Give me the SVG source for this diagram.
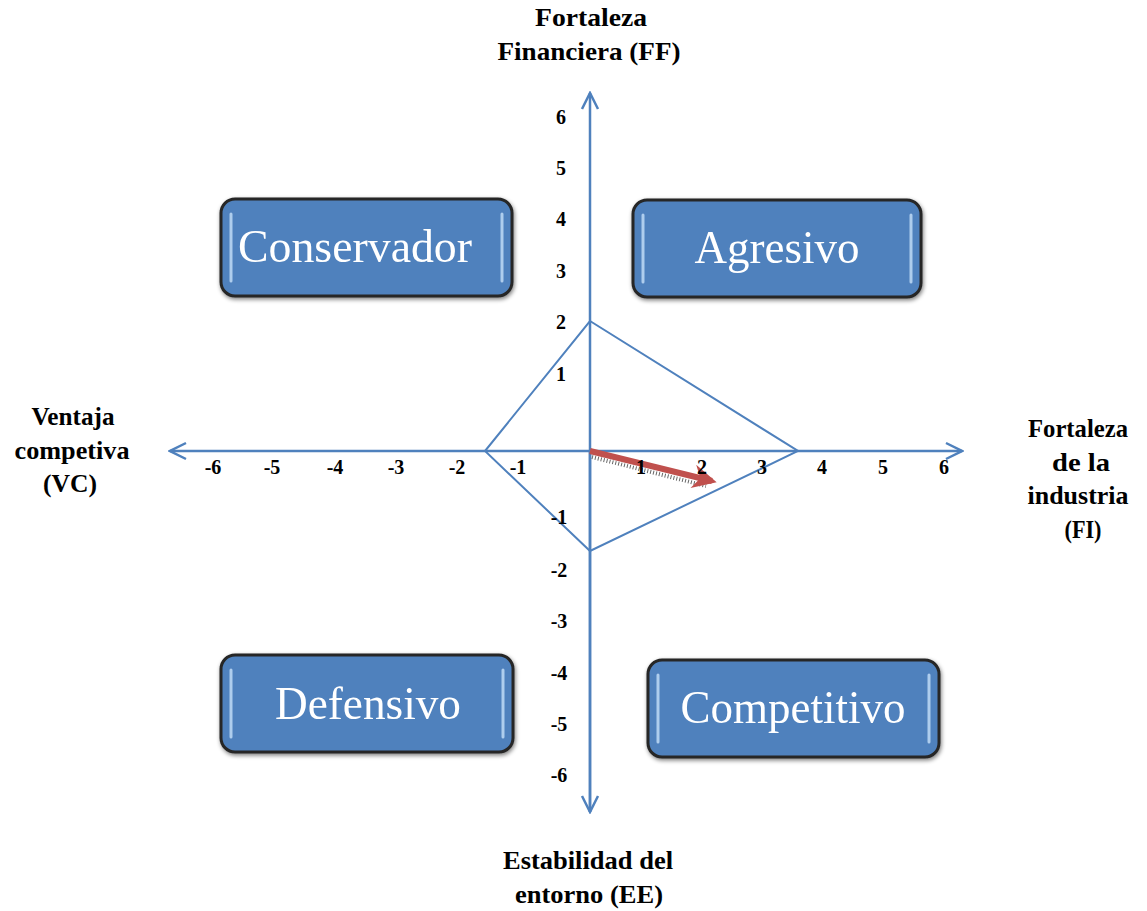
<svg xmlns="http://www.w3.org/2000/svg" width="1147" height="911" viewBox="0 0 1147 911">
<style>
.lab{font-family:"Liberation Serif","Times New Roman",serif;font-weight:bold;font-size:25px;fill:#000;text-anchor:middle}
.num{font-family:"Liberation Serif","Times New Roman",serif;font-weight:bold;font-size:20px;fill:#000;text-anchor:middle}
.box{fill:#4F81BD;stroke:#262626;stroke-width:3}
.hl{stroke:#C6E0FA;stroke-width:3;stroke-linecap:round;opacity:0.8}
.bt{font-family:"Liberation Serif","Times New Roman",serif;font-size:47px;fill:#fff;text-anchor:middle}
.ax{stroke:#4F81BD;stroke-width:2.5;fill:none}
</style>
<defs>
<marker id="ah" viewBox="0 0 20 20" refX="18" refY="10" markerWidth="20" markerHeight="20" markerUnits="userSpaceOnUse" orient="auto">
<path d="M2,2 L18,10 L2,18" fill="none" stroke="#4F81BD" stroke-width="2.5"/>
</marker>
<marker id="rh" viewBox="0 0 10 10" refX="8" refY="5" markerWidth="26" markerHeight="24" markerUnits="userSpaceOnUse" orient="auto">
<path d="M0,0 L10,5 L0,10 L3,5 Z" fill="#C0504D"/>
</marker>
<filter id="sh" x="-10%" y="-10%" width="120%" height="130%">
<feGaussianBlur in="SourceAlpha" stdDeviation="2"/>
<feOffset dx="1" dy="2"/>
<feComponentTransfer><feFuncA type="linear" slope="0.5"/></feComponentTransfer>
<feMerge><feMergeNode/><feMergeNode in="SourceGraphic"/></feMerge>
</filter>
</defs>
<g id="connectors">
<line class="ax" x1="590" y1="812" x2="590" y2="93" marker-end="url(#ah)"/>
<line class="ax" x1="590" y1="451" x2="590" y2="812" marker-end="url(#ah)"/>
<line class="ax" x1="590" y1="451" x2="962" y2="451" marker-end="url(#ah)"/>
<line class="ax" x1="590" y1="451" x2="170" y2="451" marker-end="url(#ah)"/>
<polygon points="590,321 798,451 590,551 485,451" fill="none" stroke="#4F81BD" stroke-width="2"/>
<line x1="592" y1="457" x2="706" y2="486" stroke="#000" stroke-width="4" stroke-dasharray="1 2" opacity="0.6"/>
<line x1="590" y1="451" x2="712" y2="481" stroke="#C0504D" stroke-width="6" marker-end="url(#rh)"/>
</g>
<g id="axis-labels">
<text class="lab" x="591" y="26" textLength="112" lengthAdjust="spacingAndGlyphs">Fortaleza</text>
<text class="lab" x="589" y="60" textLength="183" lengthAdjust="spacingAndGlyphs">Financiera (FF)</text>
<text class="lab" x="73" y="425" textLength="83" lengthAdjust="spacingAndGlyphs">Ventaja</text>
<text class="lab" x="72" y="459" textLength="115" lengthAdjust="spacingAndGlyphs">competiva</text>
<text class="lab" x="70" y="492" textLength="54" lengthAdjust="spacingAndGlyphs">(VC)</text>
<text class="lab" x="1078" y="437" textLength="100" lengthAdjust="spacingAndGlyphs">Fortaleza</text>
<text class="lab" x="1081" y="471" textLength="58" lengthAdjust="spacingAndGlyphs">de la</text>
<text class="lab" x="1078" y="504" textLength="101" lengthAdjust="spacingAndGlyphs">industria</text>
<text class="lab" x="1083" y="538" textLength="37" lengthAdjust="spacingAndGlyphs">(FI)</text>
<text class="lab" x="588" y="869" textLength="170" lengthAdjust="spacingAndGlyphs">Estabilidad del</text>
<text class="lab" x="589" y="903" textLength="148" lengthAdjust="spacingAndGlyphs">entorno (EE)</text>
</g>
<g id="ticks">
<text class="num" x="561" y="124">6</text>
<text class="num" x="561" y="175">5</text>
<text class="num" x="561" y="226">4</text>
<text class="num" x="561" y="278">3</text>
<text class="num" x="561" y="329">2</text>
<text class="num" x="561" y="381">1</text>
<text class="num" x="559" y="524">-1</text>
<text class="num" x="559" y="577">-2</text>
<text class="num" x="559" y="628">-3</text>
<text class="num" x="559" y="680">-4</text>
<text class="num" x="559" y="731">-5</text>
<text class="num" x="559" y="782">-6</text>
<text class="num" x="213" y="474">-6</text>
<text class="num" x="272" y="474">-5</text>
<text class="num" x="335" y="474">-4</text>
<text class="num" x="396" y="474">-3</text>
<text class="num" x="457" y="474">-2</text>
<text class="num" x="518" y="474">-1</text>
<text class="num" x="641" y="474">1</text>
<text class="num" x="702" y="474">2</text>
<text class="num" x="762" y="474">3</text>
<text class="num" x="822" y="474">4</text>
<text class="num" x="883" y="474">5</text>
<text class="num" x="944" y="474">6</text>
</g>
<g id="conservador" filter="url(#sh)">
<rect class="box" x="221" y="199" width="291" height="97" rx="14"/>
<line class="hl" x1="231" y1="214" x2="231" y2="281"/>
<line class="hl" x1="502" y1="214" x2="502" y2="281"/>
<text class="bt" x="355" y="262" textLength="234" lengthAdjust="spacingAndGlyphs">Conservador</text>
</g>
<g id="agresivo" filter="url(#sh)">
<rect class="box" x="633" y="200" width="288" height="97" rx="14"/>
<line class="hl" x1="643" y1="215" x2="643" y2="282"/>
<line class="hl" x1="911" y1="215" x2="911" y2="282"/>
<text class="bt" x="777" y="263" textLength="165" lengthAdjust="spacingAndGlyphs">Agresivo</text>
</g>
<g id="defensivo" filter="url(#sh)">
<rect class="box" x="221" y="655" width="292" height="97" rx="14"/>
<line class="hl" x1="231" y1="670" x2="231" y2="737"/>
<line class="hl" x1="503" y1="670" x2="503" y2="737"/>
<text class="bt" x="368" y="719" textLength="186" lengthAdjust="spacingAndGlyphs">Defensivo</text>
</g>
<g id="competitivo" filter="url(#sh)">
<rect class="box" x="648" y="660" width="291" height="97" rx="14"/>
<line class="hl" x1="658" y1="675" x2="658" y2="742"/>
<line class="hl" x1="929" y1="675" x2="929" y2="742"/>
<text class="bt" x="793" y="723" textLength="225" lengthAdjust="spacingAndGlyphs">Competitivo</text>
</g>
</svg>
